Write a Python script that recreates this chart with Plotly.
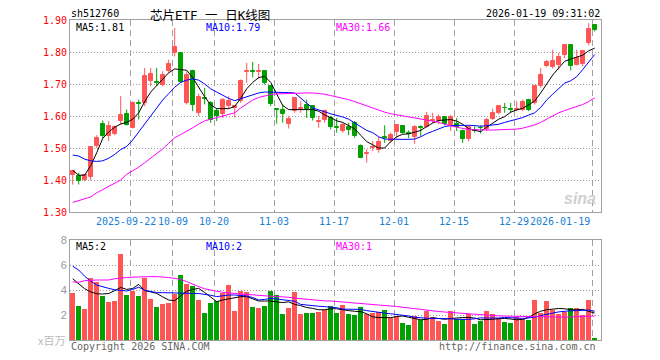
import plotly.graph_objects as go

# ---------------- data ----------------
tick_idx = [10, 17, 24, 34, 44, 54, 64, 74, 87]
tick_text = ["2025-09-22", "10-09", "10-20", "11-03", "11-17", "12-01", "12-15", "12-29", "2026-01-19"]

opens = [1.416, 1.412, 1.399, 1.409, 1.506, 1.576, 1.537, 1.544, 1.584, 1.607,
         1.563, 1.642, 1.641, 1.709, 1.707, 1.698, 1.740, 1.797, 1.797, 1.641,
         1.740, 1.610, 1.656, 1.641, 1.617, 1.607, 1.631, 1.626, 1.646, 1.738,
         1.742, 1.737, 1.740, 1.693, 1.621, 1.620, 1.576, 1.615, 1.622, 1.633,
         1.631, 1.582, 1.589, 1.594, 1.565, 1.553, 1.566, 1.579, 1.506, 1.480,
         1.499, 1.495, 1.534, 1.522, 1.551, 1.570, 1.546, 1.534, 1.566, 1.565,
         1.584, 1.584, 1.596, 1.571, 1.574, 1.553, 1.527, 1.556, 1.564, 1.558,
         1.592, 1.609, 1.626, 1.621, 1.619, 1.620, 1.651, 1.641, 1.693, 1.757,
         1.752, 1.758, 1.792, 1.821, 1.760, 1.763, 1.828, 1.883]
highs = [1.431, 1.423, 1.418, 1.506, 1.540, 1.586, 1.584, 1.570, 1.662, 1.620,
         1.646, 1.651, 1.750, 1.750, 1.750, 1.740, 1.776, 1.875, 1.797, 1.740,
         1.745, 1.670, 1.688, 1.646, 1.625, 1.656, 1.662, 1.631, 1.714, 1.766,
         1.769, 1.763, 1.740, 1.693, 1.622, 1.636, 1.600, 1.659, 1.646, 1.651,
         1.631, 1.600, 1.620, 1.600, 1.594, 1.579, 1.579, 1.584, 1.511, 1.496,
         1.522, 1.534, 1.571, 1.548, 1.572, 1.570, 1.555, 1.571, 1.571, 1.613,
         1.610, 1.605, 1.600, 1.603, 1.594, 1.558, 1.565, 1.568, 1.571, 1.594,
         1.623, 1.631, 1.641, 1.641, 1.646, 1.651, 1.654, 1.693, 1.750, 1.776,
         1.807, 1.797, 1.821, 1.823, 1.807, 1.802, 1.890, 1.883]
lows = [1.386, 1.386, 1.396, 1.399, 1.500, 1.530, 1.522, 1.540, 1.573, 1.570,
        1.561, 1.589, 1.631, 1.693, 1.693, 1.693, 1.735, 1.786, 1.703, 1.636,
        1.615, 1.600, 1.636, 1.579, 1.584, 1.594, 1.623, 1.595, 1.641, 1.703,
        1.721, 1.717, 1.698, 1.631, 1.576, 1.579, 1.561, 1.610, 1.610, 1.594,
        1.586, 1.563, 1.579, 1.558, 1.548, 1.548, 1.540, 1.532, 1.468, 1.454,
        1.490, 1.485, 1.516, 1.516, 1.530, 1.545, 1.530, 1.513, 1.537, 1.563,
        1.578, 1.574, 1.571, 1.553, 1.553, 1.516, 1.520, 1.548, 1.545, 1.553,
        1.588, 1.605, 1.610, 1.610, 1.615, 1.615, 1.615, 1.636, 1.688, 1.752,
        1.748, 1.745, 1.781, 1.742, 1.758, 1.755, 1.821, 1.864]
closes = [1.428, 1.397, 1.416, 1.503, 1.532, 1.537, 1.568, 1.565, 1.602, 1.573,
          1.641, 1.637, 1.724, 1.731, 1.703, 1.729, 1.763, 1.816, 1.706, 1.729,
          1.634, 1.659, 1.652, 1.589, 1.600, 1.651, 1.646, 1.630, 1.709, 1.742,
          1.738, 1.740, 1.703, 1.638, 1.619, 1.605, 1.592, 1.655, 1.625, 1.623,
          1.594, 1.585, 1.617, 1.565, 1.563, 1.572, 1.556, 1.537, 1.470, 1.483,
          1.503, 1.520, 1.530, 1.542, 1.572, 1.548, 1.544, 1.565, 1.563, 1.600,
          1.589, 1.596, 1.576, 1.596, 1.566, 1.527, 1.565, 1.554, 1.561, 1.589,
          1.609, 1.631, 1.624, 1.619, 1.623, 1.643, 1.620, 1.693, 1.729, 1.769,
          1.773, 1.783, 1.821, 1.755, 1.781, 1.802, 1.873, 1.870]

ma5 = [1.430, 1.415, 1.415, 1.445, 1.485, 1.530, 1.550, 1.565, 1.575, 1.580,
       1.590, 1.610, 1.645, 1.675, 1.695, 1.715, 1.735, 1.747, 1.745, 1.743,
       1.720, 1.690, 1.660, 1.635, 1.623, 1.623, 1.623, 1.630, 1.655, 1.685,
       1.705, 1.720, 1.724, 1.705, 1.667, 1.633, 1.620, 1.620, 1.620, 1.620,
       1.620, 1.615, 1.603, 1.595, 1.585, 1.580, 1.570, 1.560, 1.540, 1.520,
       1.510, 1.500, 1.500, 1.520, 1.535, 1.543, 1.544, 1.550, 1.555, 1.567,
       1.578, 1.586, 1.588, 1.589, 1.584, 1.574, 1.560, 1.555, 1.551, 1.565,
       1.578, 1.590, 1.598, 1.612, 1.619, 1.624, 1.635, 1.647, 1.672, 1.700,
       1.728, 1.750, 1.771, 1.778, 1.783, 1.790, 1.804, 1.812]
ma10 = [1.478, 1.475, 1.465, 1.460, 1.458, 1.460, 1.468, 1.480, 1.495, 1.505,
        1.525, 1.550, 1.575, 1.600, 1.625, 1.650, 1.670, 1.690, 1.705, 1.712,
        1.716, 1.712, 1.700, 1.685, 1.675, 1.665, 1.655, 1.648, 1.654, 1.662,
        1.668, 1.672, 1.675, 1.675, 1.675, 1.674, 1.673, 1.672, 1.655, 1.640,
        1.625, 1.618, 1.613, 1.607, 1.603, 1.597, 1.590, 1.578, 1.567, 1.555,
        1.548, 1.535, 1.528, 1.527, 1.527, 1.527, 1.527, 1.528, 1.535, 1.545,
        1.552, 1.560, 1.567, 1.570, 1.571, 1.571, 1.571, 1.570, 1.568, 1.570,
        1.572, 1.574, 1.580, 1.585, 1.590, 1.595, 1.603, 1.610, 1.627, 1.650,
        1.668, 1.686, 1.703, 1.710, 1.723, 1.745, 1.768, 1.792]
ma30 = [1.330, 1.335, 1.340, 1.347, 1.360, 1.370, 1.380, 1.390, 1.400, 1.418,
        1.428, 1.440, 1.454, 1.468, 1.482, 1.497, 1.515, 1.532, 1.542, 1.552,
        1.563, 1.575, 1.585, 1.590, 1.595, 1.600, 1.603, 1.610, 1.625, 1.638,
        1.650, 1.658, 1.663, 1.667, 1.669, 1.670, 1.671, 1.672, 1.672, 1.672,
        1.672, 1.671, 1.668, 1.664, 1.660, 1.656, 1.651, 1.645, 1.638, 1.632,
        1.625, 1.617, 1.612, 1.607, 1.604, 1.600, 1.598, 1.594, 1.592, 1.589,
        1.584, 1.580, 1.574, 1.569, 1.565, 1.561, 1.558, 1.557, 1.556, 1.556,
        1.556, 1.557, 1.557, 1.558, 1.559, 1.562, 1.566, 1.572, 1.580, 1.590,
        1.600, 1.610, 1.617, 1.623, 1.629, 1.636, 1.645, 1.657]

volumes = [3.79, 2.72, 2.48, 4.99, 4.61, 3.52, 3.04, 3.15, 6.90, 3.60,
           3.92, 3.52, 4.99, 3.28, 2.64, 2.91, 2.99, 3.71, 5.20, 4.48,
           4.32, 3.20, 2.19, 2.96, 3.12, 3.79, 4.40, 2.35, 3.92, 3.84,
           2.64, 2.56, 2.72, 3.92, 3.60, 2.08, 2.56, 3.84, 2.08, 2.16,
           2.16, 2.24, 2.40, 2.75, 2.19, 2.80, 2.08, 2.00, 2.64, 2.08,
           2.13, 2.27, 2.40, 1.79, 1.95, 1.39, 1.20, 1.95, 1.60, 2.32,
           1.81, 1.55, 1.28, 2.32, 1.68, 1.65, 2.05, 1.28, 1.55, 2.32,
           2.08, 1.73, 1.47, 1.39, 1.81, 1.68, 1.57, 3.20, 2.19, 3.12,
           2.40, 2.08, 2.27, 2.59, 2.59, 2.00, 3.20, 0.19]
vma5 = [4.90, 4.50, 4.10, 3.85, 3.70, 3.68, 3.72, 3.95, 4.20, 4.05,
        4.12, 4.45, 3.95, 3.85, 3.73, 3.45, 3.20, 3.15, 3.50, 3.90,
        4.05, 4.13, 3.80, 3.40, 3.07, 3.20, 3.30, 3.40, 3.47, 3.47,
        3.30, 3.12, 3.12, 3.12, 3.05, 3.00, 3.05, 2.85, 2.75, 2.60,
        2.53, 2.42, 2.42, 2.50, 2.50, 2.40, 2.35, 2.30, 2.27, 2.10,
        1.85, 1.80, 1.80, 1.79, 1.88, 1.92, 1.82, 1.75, 1.62, 1.65,
        1.78, 1.72, 1.66, 1.72, 1.78, 1.80, 1.81, 1.75, 1.62, 1.62,
        1.66, 1.70, 1.73, 1.68, 1.62, 1.65, 1.80, 2.10, 2.30, 2.42,
        2.48, 2.52, 2.50, 2.42, 2.42, 2.45, 2.30, 2.15]
vma10 = [5.90, 5.60, 5.10, 4.70, 4.40, 4.25, 4.13, 4.02, 3.95, 3.92,
         4.05, 4.22, 3.98, 3.88, 3.79, 3.79, 3.79, 3.78, 3.74, 3.73,
         3.73, 3.72, 3.68, 3.58, 3.47, 3.55, 3.60, 3.60, 3.57, 3.52,
         3.40, 3.20, 3.25, 3.32, 3.28, 3.20, 3.17, 3.10, 2.85, 2.78,
         2.72, 2.70, 2.67, 2.62, 2.58, 2.47, 2.46, 2.45, 2.45, 2.35,
         2.27, 2.22, 2.15, 2.10, 2.06, 2.00, 1.92, 1.82, 1.77, 1.74,
         1.73, 1.73, 1.72, 1.70, 1.66, 1.65, 1.65, 1.70, 1.77, 1.76,
         1.74, 1.76, 1.80, 1.80, 1.76, 1.73, 1.76, 1.82, 1.95, 2.08,
         2.15, 2.25, 2.32, 2.34, 2.35, 2.37, 2.40, 2.30]
vma30 = [4.65, 4.62, 4.75, 4.80, 4.80, 4.80, 4.80, 4.90, 4.97, 5.00,
         5.03, 5.06, 5.07, 5.07, 5.07, 5.05, 5.00, 4.93, 4.85, 4.67,
         4.45, 4.27, 4.10, 3.97, 3.90, 3.82, 3.76, 3.72, 3.68, 3.65,
         3.60, 3.55, 3.52, 3.50, 3.48, 3.47, 3.42, 3.35, 3.30, 3.25,
         3.21, 3.17, 3.13, 3.12, 3.10, 3.05, 3.00, 2.96, 2.93, 2.88,
         2.84, 2.80, 2.76, 2.72, 2.68, 2.62, 2.55, 2.47, 2.40, 2.36,
         2.32, 2.28, 2.24, 2.20, 2.16, 2.13, 2.10, 2.06, 2.01, 1.98,
         1.95, 1.93, 1.91, 1.90, 1.88, 1.87, 1.85, 1.83, 1.81, 1.81,
         1.81, 1.81, 1.83, 1.85, 1.87, 1.89, 1.90, 1.92]

price_ticks = [1.30, 1.40, 1.50, 1.60, 1.70, 1.80, 1.90]
vol_ticks = [2, 4, 6, 8]

# ---------------- styling ----------------
RED = "#FF5555"
GREEN = "#00A000"
BORDER = "#A0A0A0"
DATE_BLUE = "#1A7FD4"
MONO = "DejaVu Sans Mono"
N = len(closes)
idx = list(range(N))
up = [c >= o for o, c in zip(opens, closes)]
cols = [RED if u else GREEN for u in up]

fig = go.Figure()

body_base = [min(o, c) for o, c in zip(opens, closes)]
body_h = [max(abs(c - o), 0.0025) for o, c in zip(opens, closes)]
for colr, flag in ((RED, True), (GREEN, False)):
    wx, wy = [], []
    for i in idx:
        if up[i] == flag:
            wx += [i, i, None]
            wy += [lows[i], highs[i], None]
    fig.add_trace(go.Scatter(x=wx, y=wy, mode="lines", line=dict(color=colr, width=1),
                             hoverinfo="skip", showlegend=False, xaxis="x", yaxis="y"))
fig.add_trace(go.Bar(x=idx, y=body_h, base=body_base, width=0.66,
                     marker=dict(color=cols, line=dict(color=cols, width=1)),
                     showlegend=False, xaxis="x", yaxis="y"))

for arr, c in ((ma5, "#000000"), (ma10, "#0000FF"), (ma30, "#FF00FF")):
    fig.add_trace(go.Scatter(x=idx, y=arr, mode="lines", line=dict(color=c, width=1),
                             showlegend=False, xaxis="x", yaxis="y"))

fig.add_trace(go.Bar(x=idx, y=volumes, width=0.82, marker=dict(color=cols, line=dict(width=0)),
                     showlegend=False, xaxis="x2", yaxis="y2"))
for arr, c in ((vma5, "#000000"), (vma10, "#0000FF"), (vma30, "#FF00FF")):
    fig.add_trace(go.Scatter(x=idx, y=arr, mode="lines", line=dict(color=c, width=1),
                             showlegend=False, xaxis="x2", yaxis="y2"))

# The page body has an 8px default margin: the figure is 652x352 and is drawn at (8, 8)
OFF = 8
W, H = 652, 352
L, R, T, B = 62, 59, 12, 20
PW, PH = W - L - R, H - T - B

def px(x):  # x in window pixels -> paper
    return (x - OFF - L) / PW

def py(y):  # y in window pixels -> paper
    return (H - B - (y - OFF)) / PH

grid_x = [t - 0.4 for t in tick_idx]
xrange_ = [-0.45, 88.05]

common_x = dict(range=xrange_, showgrid=True, gridcolor=BORDER, griddash="6px,4px", gridwidth=1,
                zeroline=False, showline=True, linecolor=BORDER, linewidth=1, mirror=True,
                tickmode="array", tickvals=grid_x, ticktext=[""] * len(grid_x), ticks="",
                showticklabels=False, automargin=False)

fig.update_layout(
    width=W, height=H, margin=dict(l=L, r=R, t=T, b=B, autoexpand=False),
    paper_bgcolor="white", plot_bgcolor="white", barmode="overlay", bargap=0,
    xaxis=dict(**common_x, anchor="y", domain=[0, 1]),
    yaxis=dict(domain=[py(212), 1], range=[1.30, 1.90], tickmode="array", tickvals=price_ticks,
               ticktext=["%.2f" % v for v in price_ticks], showgrid=True, gridcolor="#999999",
               griddash="1px,2px", zeroline=False, showline=True, linecolor=BORDER, mirror=True,
               ticks="", automargin=False, tickfont=dict(family=MONO, size=10, color="#FF0000")),
    xaxis2=dict(**common_x, anchor="y2", domain=[0, 1]),
    yaxis2=dict(domain=[0, py(240)], range=[0, 8], tickmode="array", tickvals=vol_ticks,
                ticktext=[str(v) for v in vol_ticks], showgrid=True, gridcolor="#999999",
                griddash="1px,2px", zeroline=False, showline=True, linecolor=BORDER, mirror=True,
                ticks="", automargin=False,
                tickfont=dict(family="Liberation Sans", size=11, color="#999999")),
)

ann = []
def text(x, y, s, color="#000000", size=10, family=MONO, xanchor="left"):
    ann.append(dict(x=px(x), y=py(y), xref="paper", yref="paper", text=s, showarrow=False,
                    xanchor=xanchor, yanchor="middle", borderpad=0,
                    font=dict(family=family, size=size, color=color)))

# date labels on the price axis (label centred under each dashed grid line)
date_shift = [-4, 1, 0, 0, 0, 0, 0, 0, 0]
for k, (g, s) in enumerate(zip(grid_x, tick_text)):
    last = k == len(grid_x) - 1
    ann.append(dict(x=g, y=py(221.5), xref="x", yref="paper", text=s, showarrow=False,
                    xanchor="right" if last else "center", yanchor="middle", xshift=date_shift[k],
                    font=dict(family=MONO, size=10, color=DATE_BLUE)))

text(70, 14, "sh512760")
text(210, 15, "芯片ETF\u00a0一\u00a0日K线图", size=12.5,
     family="DejaVu Sans Mono, Noto Sans CJK SC", xanchor="center")
text(601, 14, "2026-01-19 09:31:02", xanchor="right")
text(75, 27.5, "MA5:%.2f" % ma5[-1])
text(205, 27.5, "MA10:%.2f" % ma10[-1], color="#0000FF")
text(335, 27.5, "MA30:%.2f" % ma30[-1], color="#FF00FF")
text(75, 246, "MA5:%d" % int(vma5[-1]))
text(205, 246, "MA10:%d" % int(vma10[-1]), color="#0000FF")
text(335, 246, "MA30:%d" % int(vma30[-1]), color="#FF00FF")
text(70, 346, "Copyright 2026 SINA.COM", color="#666666")
text(597, 346, "http://finance.sina.com.cn", color="#666666", xanchor="right")
text(66, 340, "x百万", color="#BBBBBB", size=11, family="Noto Sans CJK SC", xanchor="right")
text(597, 198, "<b><i>sina</i></b>", color="#D0D0D0", size=16, family="Liberation Sans", xanchor="right")
fig.update_layout(annotations=ann)

fig.write_html("out.html")
